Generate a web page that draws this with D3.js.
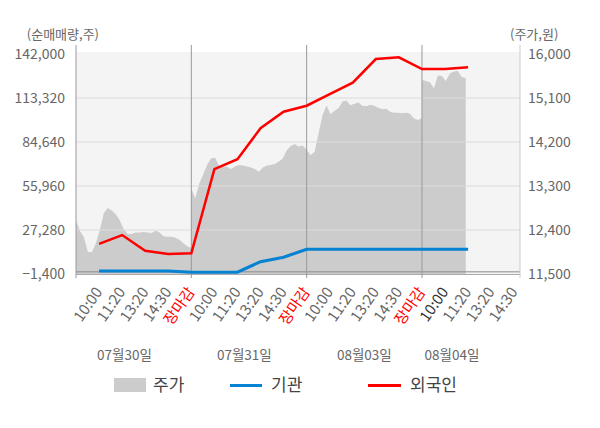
<!DOCTYPE html>
<html>
<head>
<meta charset="utf-8">
<script src="https://cdn.jsdelivr.net/npm/d3@7"></script>
<style>
  body { margin: 0; background: #fff; }
  svg { font-family: "Noto Sans CJK KR", "Noto Sans", sans-serif; }
</style>
</head>
<body>
<div id="chart"></div>
<script>
// x축 라벨 (일자별 시간대)
const timeLabels = ["10:00", "11:20", "13:20", "14:30", "장마감",
                    "10:00", "11:20", "13:20", "14:30", "장마감",
                    "10:00", "11:20", "13:20", "14:30", "장마감",
                    "10:00", "11:20", "13:20", "14:30"];
const dateLabels = ["07월30일", "07월31일", "08월03일", "08월04일"];

// 주가 (일자별, 균등 간격)
const priceDay1 = [12600, 12380, 12250, 11950, 11950, 12130, 12400, 12750, 12850, 12800,
                   12720, 12600, 12420, 12320, 12320, 12350, 12350, 12360, 12350, 12340,
                   12390, 12350, 12270, 12260, 12260, 12240, 12200, 12130, 12070, 12030];
const priceDay2 = [13250, 13050, 13350, 13540, 13740, 13870, 13880, 13710, 13700, 13690,
                   13650, 13700, 13730, 13720, 13700, 13680, 13650, 13590, 13680, 13720,
                   13730, 13750, 13800, 13860, 14030, 14120, 14160, 14110, 14130, 14040];
const priceDay3 = [14040, 13930, 14000, 14380, 14750, 14950, 14770, 14840, 14890, 15030,
                   15050, 14950, 14980, 15010, 14940, 14930, 14960, 14940, 14900, 14870,
                   14880, 14820, 14800, 14800, 14790, 14800, 14780, 14680, 14650, 14690];
const priceDay4 = [15470, 15450, 15420, 15300, 15560, 15550, 15450, 15600, 15640, 15650,
                   15530, 15510];

// 누적 순매매량 (10:00 첫날부터 시간대별)
const foreign = [18200, 24000, 13800, 11600, 12100, 67000, 73400, 93600, 104400, 108300,
                 115900, 123300, 138700, 139800, 132200, 132200, 133300];
const institution = [600, 600, 600, 600, -200, -200, -200, 6600, 9500, 14700,
                     14700, 14700, 14700, 14700, 14700, 14700, 14700];

const leftTicks = [-1400, 27280, 55960, 84640, 113320, 142000];
const rightTicks = [11500, 12400, 13300, 14200, 15100, 16000];

const width = 600, height = 428;
const plot = { left: 76, right: 520, top: 52, bottom: 274 };
const slotsPerDay = 5;
const dateSlots = [2.1, 7.3, 12.5, 16.3];

const svg = d3.select("#chart").append("svg")
    .attr("width", width)
    .attr("height", height);

const x = d3.scaleLinear().domain([0, 19.25]).range([plot.left, plot.right]);
const yL = d3.scaleLinear().domain([-1400, 142000]).range([274, 54]);
const yR = d3.scaleLinear().domain([11500, 16000]).range([274, 54]);

// 주가 데이터를 slot 위치로 변환
const priceDays = [priceDay1, priceDay2, priceDay3, priceDay4];
const pricePts = [];
priceDays.forEach((arr, d) => {
    arr.forEach((v, k) => pricePts.push({ s: d * slotsPerDay + k * slotsPerDay / 29, v: v }));
});

// 배경
svg.append("rect")
    .attr("x", plot.left).attr("y", plot.top)
    .attr("width", plot.right - plot.left).attr("height", plot.bottom - plot.top)
    .attr("fill", "#f4f4f4");

// 주가 영역
svg.append("path")
    .datum(pricePts)
    .attr("fill", "#cccccc")
    .attr("d", d3.area().x(d => x(d.s)).y0(yR(11500)).y1(d => yR(d.v)));

// 가로 격자
svg.append("g").selectAll("line")
    .data(leftTicks.slice(1, -1))
    .join("line")
    .attr("x1", plot.left).attr("x2", plot.right)
    .attr("y1", d => yL(d)).attr("y2", d => yL(d))
    .attr("stroke", "#dcdcdc").attr("stroke-width", 1);

// 0 기준선
svg.append("line")
    .attr("x1", plot.left).attr("x2", plot.right)
    .attr("y1", yL(0)).attr("y2", yL(0))
    .attr("stroke", "#8c8c8c").attr("stroke-width", 1);

// 하단 축선
svg.append("line")
    .attr("x1", plot.left).attr("x2", plot.right)
    .attr("y1", plot.bottom + 0.5).attr("y2", plot.bottom + 0.5)
    .attr("stroke", "#aaa").attr("stroke-width", 1);

// 일자 구분선 + 좌측 축
svg.append("g").selectAll("line")
    .data([0, 5, 10, 15])
    .join("line")
    .attr("x1", d => x(d)).attr("x2", d => x(d))
    .attr("y1", 45).attr("y2", 278)
    .attr("stroke", "#999").attr("stroke-width", 1);

svg.append("line")
    .attr("x1", plot.right).attr("x2", plot.right)
    .attr("y1", 45).attr("y2", 278)
    .attr("stroke", "#ccc").attr("stroke-width", 1);

// 기관 / 외국인 선
const line = d3.line().x((d, i) => x(i + 1)).y(d => yL(d));
svg.append("path")
    .datum(institution)
    .attr("fill", "none").attr("stroke", "#0582d2").attr("stroke-width", 3)
    .attr("d", line);
svg.append("path")
    .datum(foreign)
    .attr("fill", "none").attr("stroke", "#ff0000").attr("stroke-width", 2.5)
    .attr("d", line);

// 좌측 눈금
svg.append("g").selectAll("text")
    .data(leftTicks)
    .join("text")
    .attr("x", 65).attr("y", d => yL(d))
    .attr("dy", "0.35em")
    .attr("text-anchor", "end")
    .attr("font-size", 14).attr("fill", "#666")
    .text(d => d3.format(",")(d));

// 우측 눈금
svg.append("g").selectAll("text")
    .data(rightTicks)
    .join("text")
    .attr("x", 528).attr("y", d => yR(d))
    .attr("dy", "0.35em")
    .attr("font-size", 14).attr("fill", "#666")
    .text(d => d3.format(",")(d));

svg.append("text")
    .attr("x", 99).attr("y", 39)
    .attr("text-anchor", "end")
    .attr("font-size", 13).attr("fill", "#666")
    .text("(순매매량,주)");
svg.append("text")
    .attr("x", 510).attr("y", 39)
    .attr("font-size", 13).attr("fill", "#666")
    .text("(주가,원)");

// x축 시간 라벨
svg.append("g").selectAll("text")
    .data(timeLabels)
    .join("text")
    .attr("transform", (d, i) => `translate(${x(i + 1) + 4},${292}) rotate(-55)`)
    .attr("text-anchor", "end")
    .attr("font-size", 15)
    .attr("fill", (d, i) => d === "장마감" ? "#ff0000" : i === 15 ? "#333" : "#666")
    .text(d => d);

// 날짜 라벨
svg.append("g").selectAll("text")
    .data(dateLabels)
    .join("text")
    .attr("x", (d, i) => x(dateSlots[i])).attr("y", 360)
    .attr("text-anchor", "middle")
    .attr("font-size", 13.5).attr("fill", "#666")
    .text(d => d);

// 범례
const legend = svg.append("g").attr("font-size", 17).attr("fill", "#444");
legend.append("rect").attr("x", 114).attr("y", 378).attr("width", 32).attr("height", 14).attr("fill", "#cccccc");
legend.append("text").attr("x", 153).attr("y", 385).attr("dy", "0.35em").text("주가");
legend.append("line").attr("x1", 230).attr("x2", 262).attr("y1", 385.5).attr("y2", 385.5)
    .attr("stroke", "#0582d2").attr("stroke-width", 3);
legend.append("text").attr("x", 271).attr("y", 385).attr("dy", "0.35em").text("기관");
legend.append("line").attr("x1", 368).attr("x2", 401).attr("y1", 385.5).attr("y2", 385.5)
    .attr("stroke", "#ff0000").attr("stroke-width", 3);
legend.append("text").attr("x", 410).attr("y", 385).attr("dy", "0.35em").text("외국인");
</script>
</body>
</html>
